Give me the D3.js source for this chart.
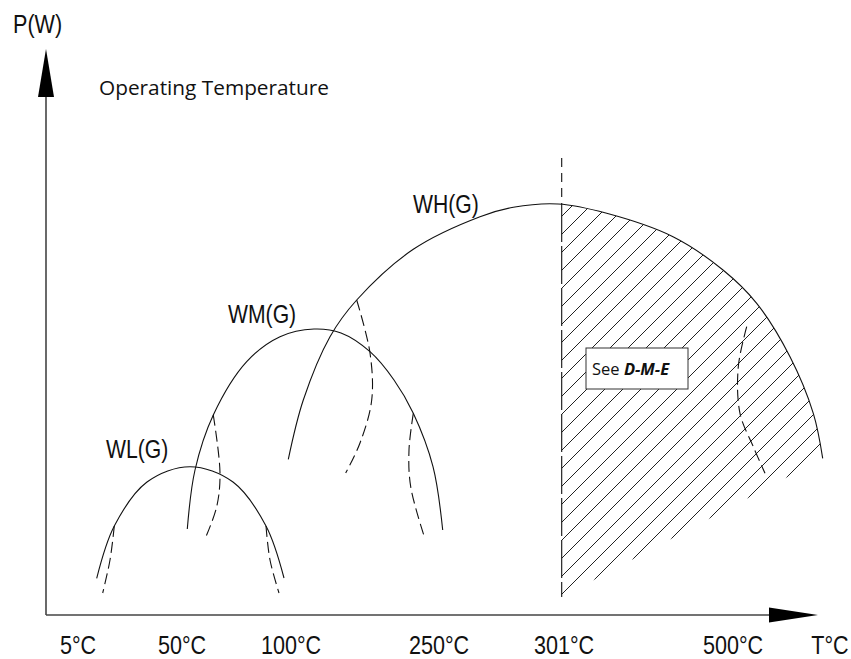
<!DOCTYPE html>
<html><head><meta charset="utf-8">
<script src="https://cdn.jsdelivr.net/npm/d3@7"></script>
<style>body{margin:0;background:#fff}</style>
</head><body>
<svg id="c" width="851" height="659"></svg>
<script>
// ---- data (schematic position units) ----
const tickLabels = ["5°C", "50°C", "100°C", "250°C", "301°C", "500°C"];
const tickPos = [32, 136, 245, 393, 518, 687];
const xTitle = "T°C";
const yTitle = "P(W)";
const chartTitle = "Operating Temperature";
const seriesNames = ["WL(G)", "WM(G)", "WH(G)"];

const wlSolid = [[50.7,36.7],[68.3,89],[101,133],[144,148.3],[187,133],[220,89],[238,37]];
const wlDashL = [[68.3,89],[64,55],[56.7,22]];
const wlDashR = [[220,89],[224,55],[233,22]];

const wmSolid = [[141.3,86],[149,145],[167.3,200],[200.7,253.3],[234,278.3],[268,286],[295,282],[324,263.3],[348,235],[367.3,201.7],[387,148.3],[396.7,85]];
const wmDashL = [[167.3,200],[174,142],[170.7,108.3],[159,76]];
const wmDashR = [[367.3,201.7],[363,165],[364.7,128.3],[379,76]];

const whSolid = [[242.3,155.7],[257.3,215],[284,278.3],[310.7,315],[367.3,365.7],[434,398.3],[467.3,407.7],[512,411],[560.7,401.7],[627,378.3],[677,345],[710.7,311.7],[744,258.3],[767.3,201.7],[776.7,156.7]];
const whDashL = [[310.7,315],[324,262],[325.7,215],[314,172],[299.7,142]];
const whDashR = [[700.7,288.3],[692.3,248.3],[694,201.7],[707.3,168.3],[719,141.7]];

const boundaryX = 515.7;        // 301°C limit
const boundaryTop = 457;
const boundaryArc = 411;
const boundaryBottom = 18;
const boxText = ["See ", "D-M-E"];

// ---- scales ----
const svg = d3.select("#c");
const x = d3.scaleLinear().domain([0, 772]).range([46, 818]);
const y = d3.scaleLinear().domain([0, 566]).range([615, 49]);
const line = d3.line().x(d => x(d[0])).y(d => y(d[1])).curve(d3.curveCatmullRom.alpha(0.5));

const sans = "'Liberation Sans', Arial, sans-serif";
const human = "'Open Sans', 'Noto Sans', sans-serif";

// ---- hatch region ----
const defs = svg.append("defs");
defs.append("clipPath").attr("id", "clipRect").append("rect")
  .attr("x", x(boundaryX)).attr("y", 0).attr("width", 851 - x(boundaryX)).attr("height", 659);
defs.append("clipPath").attr("id", "clipArc").append("path")
  .attr("d", line(whSolid) + `L${x(boundaryX)},${y(boundaryBottom)}Z`);
const hg = svg.append("g").attr("clip-path", "url(#clipRect)")
  .append("g").attr("clip-path", "url(#clipArc)");
const hatchC = d3.range(886 - 18 * 30, 1600, 18);
hg.selectAll("line").data(hatchC).join("line")
  .attr("x1", 500).attr("y1", d => d - 500).attr("x2", 900).attr("y2", d => d - 900)
  .attr("stroke", "#222").attr("stroke-width", 1);

// ---- curves ----
const solids = [wlSolid, wmSolid, whSolid];
const dashes = [wlDashL, wlDashR, wmDashL, wmDashR, whDashL, whDashR];
svg.append("g").selectAll("path").data(solids).join("path")
  .attr("d", line).attr("fill", "none").attr("stroke", "#111").attr("stroke-width", 1.1);
svg.append("g").selectAll("path").data(dashes).join("path")
  .attr("d", line).attr("fill", "none").attr("stroke", "#111").attr("stroke-width", 1.1)
  .attr("stroke-dasharray", "11,5");

// boundary vertical line
svg.append("line").attr("x1", x(boundaryX)).attr("x2", x(boundaryX))
  .attr("y1", y(boundaryTop)).attr("y2", y(boundaryArc))
  .attr("stroke", "#111").attr("stroke-width", 1.1).attr("stroke-dasharray", "9,6");
svg.append("line").attr("x1", x(boundaryX)).attr("x2", x(boundaryX))
  .attr("y1", y(boundaryArc)).attr("y2", y(boundaryBottom))
  .attr("stroke", "#111").attr("stroke-width", 1.1).attr("stroke-dasharray", "38,4");

// ---- axes ----
const ax = svg.append("g");
ax.append("line").attr("x1", x(0)).attr("y1", y(0)).attr("x2", x(730)).attr("y2", y(0))
  .attr("stroke", "#444").attr("stroke-width", 1.6);
ax.append("line").attr("x1", x(0)).attr("y1", y(0)).attr("x2", x(0)).attr("y2", y(530))
  .attr("stroke", "#444").attr("stroke-width", 1.6);
ax.append("path").attr("d", `M${x(772)},${y(0)}L${x(723)},${y(0)-7.5}L${x(723)},${y(0)+7.5}Z`).attr("fill", "#000");
ax.append("path").attr("d", `M${x(0)},${y(566)}L${x(0)-8},${y(518)}L${x(0)+8},${y(518)}Z`).attr("fill", "#000");

// condensed text helper
function narrowText(g, px, py, str, size, anchor) {
  return g.append("text")
    .attr("transform", `translate(${px},${py}) scale(0.83,1)`)
    .attr("text-anchor", anchor || "start")
    .attr("font-family", sans).attr("font-size", size).attr("fill", "#111").text(str);
}

const tg = svg.append("g");
tickLabels.forEach((t, i) => narrowText(tg, x(tickPos[i]), 654, t, 26, "middle"));
narrowText(tg, x(784), 654, xTitle, 26, "middle");
narrowText(tg, 13, 33, yTitle, 26, "start");

svg.append("text").attr("x", 99).attr("y", 95)
  .attr("font-family", human).attr("font-size", 20.8).attr("fill", "#111").text(chartTitle);

// series labels
const labelPos = [[106, 458], [228, 323], [413, 213]];
seriesNames.forEach((s, i) => narrowText(tg, labelPos[i][0], labelPos[i][1], s, 25.5, "start"));

// box
svg.append("rect").attr("x", 586).attr("y", 348).attr("width", 102).attr("height", 41)
  .attr("fill", "#fff").attr("stroke", "#333").attr("stroke-width", 1);
const bt = svg.append("text").attr("x", 592).attr("y", 375)
  .attr("font-family", human).attr("font-size", 16.5).attr("fill", "#111");
bt.append("tspan").text(boxText[0]);
bt.append("tspan").attr("font-weight", "bold").attr("font-style", "italic").text(boxText[1]);
</script>
</body></html>
